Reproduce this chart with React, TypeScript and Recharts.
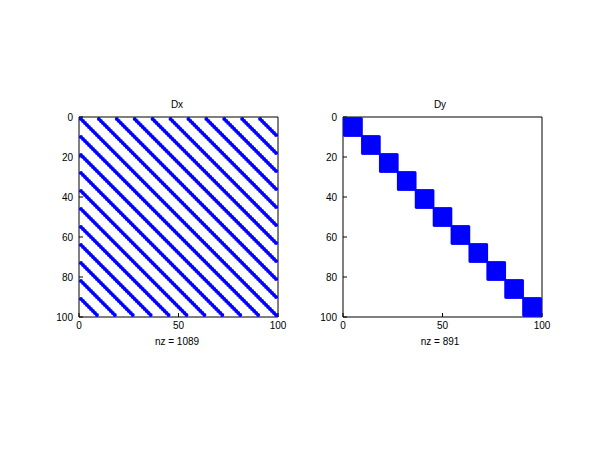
import { Scatter, ScatterChart, XAxis, YAxis } from "recharts";

// 99x99 matrices built from 11 blocks of 9x9 (spy plots)
const blockStarts = [1, 10, 19, 28, 37, 46, 55, 64, 73, 82, 91];
const blockOffsets = [0, 1, 2, 3, 4, 5, 6, 7, 8];
const xTicks = [0, 50, 100];
const yTicks = [0, 20, 40, 60, 80, 100];

interface Cell {
  col: number;
  row: number;
}

// Dx: identity 9x9 inside every block -> diagonals every 9 columns
const dxCells: Cell[] = [];
blockStarts.forEach((r) =>
  blockStarts.forEach((c) =>
    blockOffsets.forEach((k) => dxCells.push({ col: c + k, row: r + k }))
  )
);

// Dy: full 9x9 blocks on the diagonal
const dyCells: Cell[] = [];
blockStarts.forEach((b) =>
  blockOffsets.forEach((i) =>
    blockOffsets.forEach((j) => dyCells.push({ col: b + j, row: b + i }))
  )
);

const font = { fontFamily: "'Liberation Sans', Arial, sans-serif", fontSize: 10, fill: "#000" };

const Dot = (props: any) => <circle cx={props.cx} cy={props.cy} r={2} fill="#0000ff" />;

interface PanelProps {
  data: Cell[];
  title: string;
  nzLabel: string;
  left: number;
  margin: { top: number; right: number; bottom: number; left: number };
  center: number;
}

function Panel({ data, title, nzLabel, left, margin, center }: PanelProps) {
  const textStyle = {
    position: "absolute" as const,
    width: 120,
    textAlign: "center" as const,
    fontFamily: "'Liberation Sans', Arial, sans-serif",
    fontSize: 10,
    lineHeight: "12px",
    color: "#000",
  };
  return (
    <>
      <div style={{ position: "absolute", left, top: 0 }}>
        <ScatterChart width={300} height={450} margin={margin}>
          <XAxis
            dataKey="col"
            type="number"
            domain={[0, 100]}
            ticks={xTicks}
            height={30}
            allowDataOverflow
            axisLine={{ stroke: "#000" }}
            tickLine={{ stroke: "#000" }}
            tickSize={-4}
            tickMargin={9}
            tick={font}
          />
          <XAxis
            xAxisId="top"
            orientation="top"
            type="number"
            domain={[0, 100]}
            ticks={xTicks}
            height={10}
            allowDataOverflow
            axisLine={{ stroke: "#000" }}
            tickLine={{ stroke: "#000" }}
            tickSize={-4}
            tick={false}
          />
          <YAxis
            dataKey="row"
            type="number"
            reversed
            domain={[0, 100]}
            ticks={yTicks}
            width={30}
            allowDataOverflow
            axisLine={{ stroke: "#000" }}
            tickLine={{ stroke: "#000" }}
            tickSize={-4}
            tickMargin={10}
            tick={font}
          />
          <YAxis
            yAxisId="right"
            orientation="right"
            type="number"
            reversed
            domain={[0, 100]}
            ticks={yTicks}
            width={10}
            allowDataOverflow
            axisLine={{ stroke: "#000" }}
            tickLine={{ stroke: "#000" }}
            tickSize={-4}
            tick={false}
          />
          <Scatter data={data} shape={Dot} isAnimationActive={false} />
        </ScatterChart>
      </div>
      <div style={{ ...textStyle, left: center - 60, top: 99 }}>{title}</div>
      <div style={{ ...textStyle, left: center - 60, top: 336 }}>{nzLabel}</div>
    </>
  );
}

export default function App() {
  return (
    <div
      style={{
        position: "absolute",
        left: 0,
        top: 0,
        width: 600,
        height: 450,
        background: "#fff",
        overflow: "hidden",
      }}
    >
      <Panel
        data={dxCells}
        title="Dx"
        nzLabel="nz = 1089"
        left={0}
        margin={{ top: 107, right: 12, bottom: 103, left: 49 }}
        center={177}
      />
      <Panel
        data={dyCells}
        title="Dy"
        nzLabel="nz = 891"
        left={300}
        margin={{ top: 107, right: 48, bottom: 103, left: 13 }}
        center={440}
      />
    </div>
  );
}
